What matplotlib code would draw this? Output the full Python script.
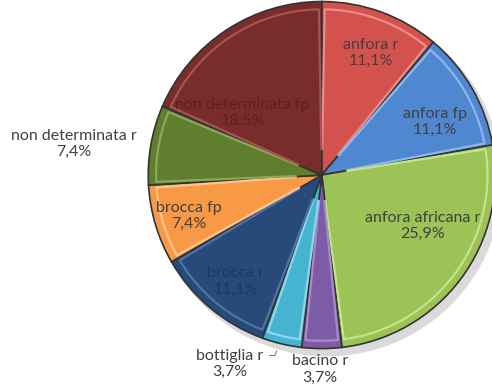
import matplotlib.pyplot as plt
import numpy as np

labels = ['anfora r', 'anfora fp', 'anfora africana r', 'bacino r', 'bottiglia r',
          'brocca r', 'brocca fp', 'non determinata r', 'non determinata fp']
values = [3, 3, 7, 1, 1, 3, 2, 2, 5]
pct_text = ['11,1%', '11,1%', '25,9%', '3,7%', '3,7%', '11,1%', '7,4%', '7,4%', '18,5%']
colors = ['#d4524e', '#4f88d0', '#9cc355', '#7d5ba6', '#46b3d1',
          '#284a78', '#f89a45', '#5f7f2f', '#782d2b']
light_edges = ['#e88d8a', '#8db6e8', '#c6e28e', '#a68bc8', '#8fd6ea',
               '#4f73a3', '#fcc48e', '#8aa85a', '#a45451']

plt.rcParams['font.family'] = ['Lato', 'DejaVu Sans']

fig = plt.figure(figsize=(4.92, 3.89), dpi=100)
ax = fig.add_axes([0.294, 0.095, 0.72, 0.91])

# soft shadow
ax.pie([1], radius=1.01, colors=['#dadada'], center=(0.03, -0.035),
       wedgeprops=dict(linewidth=0))
wedges, _ = ax.pie(values, startangle=90, counterclock=False, colors=colors,
                   wedgeprops=dict(linewidth=1.2, edgecolor='#333333'))
# bevel-ish inner highlight (no inner arc so the centre stays clean)
for w, le in zip(wedges, light_edges):
    t = np.deg2rad(np.linspace(w.theta1 + 1.0, w.theta2 - 1.0, 60))
    r0, r1 = 0.15, 0.955
    xs = np.r_[r0 * np.cos(t[0]), r1 * np.cos(t), r0 * np.cos(t[-1])]
    ys = np.r_[r0 * np.sin(t[0]), r1 * np.sin(t), r0 * np.sin(t[-1])]
    ax.plot(xs, ys, color=le, lw=1.6, solid_capstyle='round')
ax.set_aspect('equal')
ax.set_xlim(-1.02, 1.02)
ax.set_ylim(-1.02, 1.02)

fs = 11.5
text_col = '#404040'
dark_txt = {'brocca r': '#1c3a60', 'non determinata fp': '#5a2220'}
# (radius, angle in degrees) for labels drawn inside the slices
inside_pos = {'anfora r': (0.76, 68), 'anfora fp': (0.72, 25), 'anfora africana r': (0.65, -27),
              'brocca r': (0.79, -129), 'brocca fp': (0.80, -163),
              'non determinata fp': (0.58, 142)}

for lab, pt in zip(labels, pct_text):
    if lab in inside_pos:
        r, a = inside_pos[lab]
        a = np.deg2rad(a)
        ax.text(r * np.cos(a), r * np.sin(a), f'{lab}\n{pt}', ha='center', va='center',
                fontsize=fs, color=dark_txt.get(lab, text_col), linespacing=1.2)

ax.text(-1.43, 0.18, 'non determinata r\n7,4%', ha='center', va='center',
        fontsize=fs, color=text_col, linespacing=1.2, clip_on=False)
ax.text(-0.53, -1.09, 'bottiglia r\n3,7%', ha='center', va='center',
        fontsize=fs, color=text_col, linespacing=1.2, clip_on=False)
ax.plot([-0.30, -0.27, -0.26], [-1.04, -1.04, -1.015], color='#7f7f7f', lw=0.8,
        clip_on=False)
ax.text(-0.01, -1.12, 'bacino r\n3,7%', ha='center', va='center',
        fontsize=fs, color=text_col, linespacing=1.2, clip_on=False)

fig.savefig('out.png', dpi=100)
